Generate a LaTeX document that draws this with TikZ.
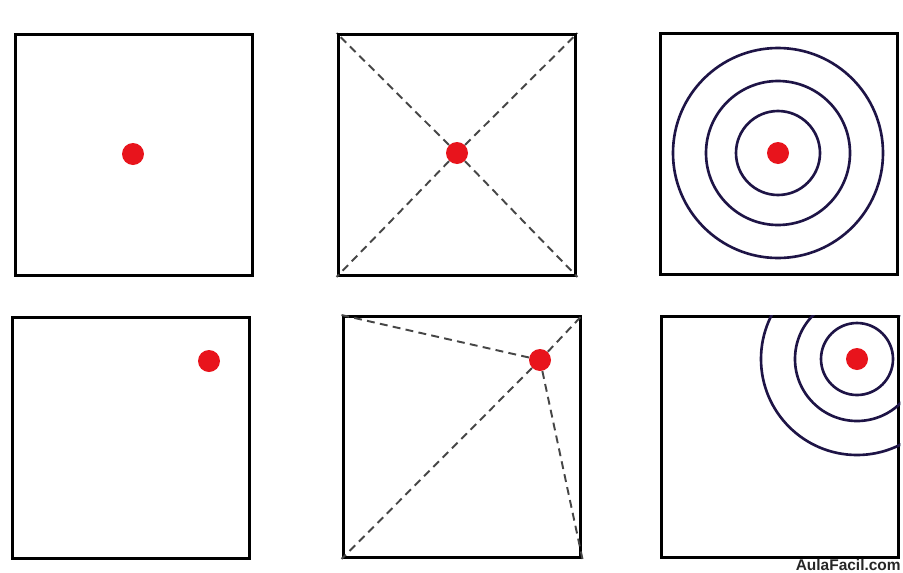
\documentclass[tikz,border=0pt]{standalone}
\usepackage{fontspec}
\usepackage{xcolor}
\usepackage{tikz}
\usetikzlibrary{positioning}
\newfontfamily\markfont{Liberation Sans}
\definecolor{dotred}{RGB}{232,20,28}
\definecolor{ringblue}{RGB}{30,20,70}
\definecolor{dashgray}{RGB}{70,70,70}

\begin{document}
\begin{tikzpicture}[
    x=0.02cm, y=-0.02cm,
    sq/.style={rectangle, draw=black, line width=1.7pt, minimum width=4.76cm, minimum height=4.82cm, inner sep=0pt},
    spot/.style={circle, fill=dotred, minimum size=0.44cm, inner sep=0pt},
    ray/.style={draw=dashgray, line width=1.1pt, dash pattern=on 4.5pt off 3pt},
    ring/.style={draw=ringblue, line width=1.5pt}
]
\clip (0,0) rectangle (903,572);
\fill[white] (0,0) rectangle (903,572);

\node[sq] (sq1) at (134,155) {};
\node[sq] (sq2) at (457,155) {};
\node[sq] (sq3) at (779,154) {};
\node[sq] (sq4) at (131,438) {};
\node[sq] (sq5) at (462,437) {};
\node[sq] (sq6) at (780,437) {};

\node[spot] (dot1) at (133,154) {};
\node[spot] (dot2) at (457,153) {};
\node[spot] (dot3) at (778,153) {};
\node[spot] (dot4) at (209,361) {};
\node[spot] (dot5) at (540,360) {};
\node[spot] (dot6) at (857,359) {};

\draw[ray] (dot2) -- (sq2.north west);
\draw[ray] (dot2) -- (sq2.north east);
\draw[ray] (dot2) -- (sq2.south west);
\draw[ray] (dot2) -- (sq2.south east);

\draw[ray] (dot5) -- (sq5.north west);
\draw[ray] (dot5) -- (sq5.north east);
\draw[ray] (dot5) -- (sq5.south west);
\draw[ray] (dot5) -- (sq5.south east);

\foreach \r in {42,72,105}
    \draw[ring] (dot3.center) circle[radius=\r];

\begin{scope}
\clip (sq6.south west) rectangle (sq6.north east);
\foreach \r in {36,62,96}
    \draw[ring] (dot6.center) circle[radius=\r];
\end{scope}

\node[anchor=base east, inner sep=0pt, text=black!85, font=\markfont\bfseries\fontsize{8.8}{10}\selectfont] (wm) at (901,570) {AulaFacil.com};
\end{tikzpicture}
\end{document}
